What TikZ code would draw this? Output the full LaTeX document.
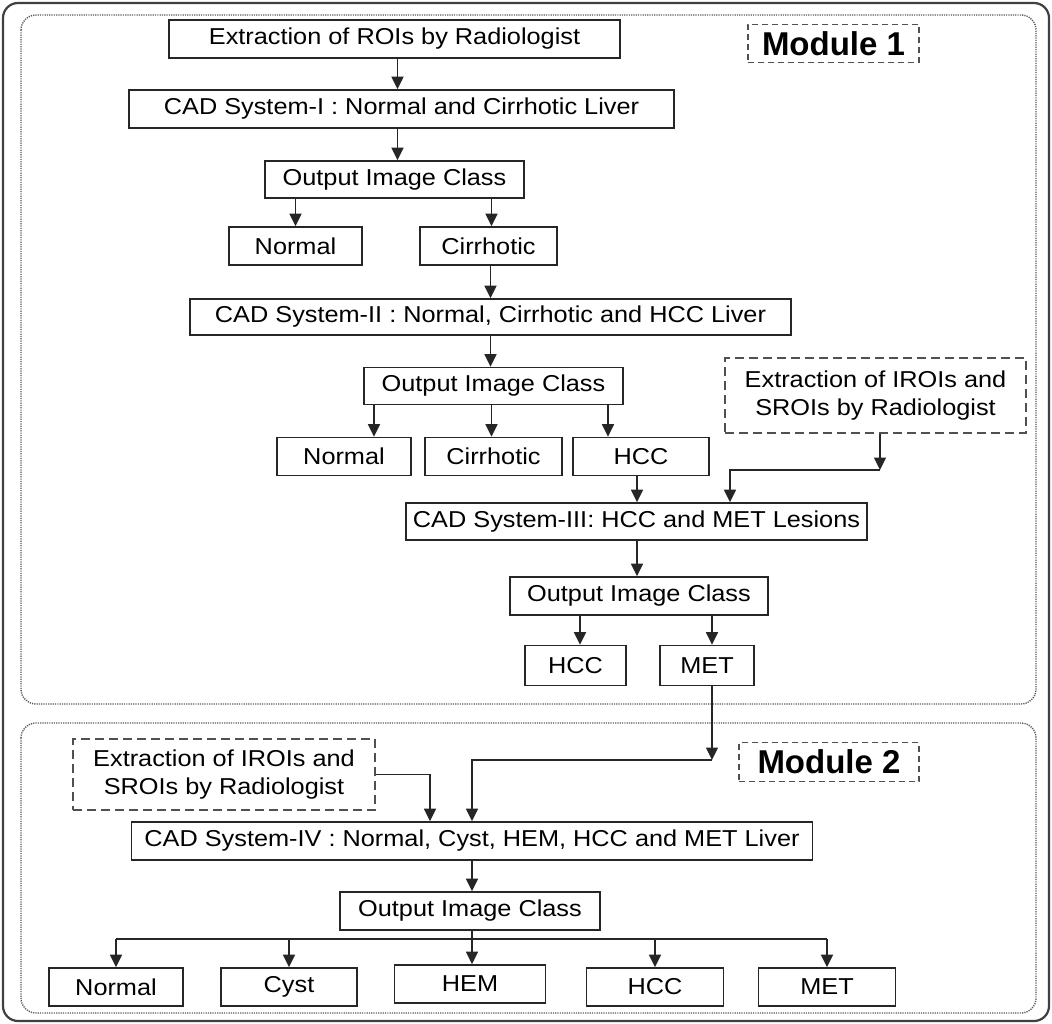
\documentclass[tikz,border=0pt]{standalone}
\usepackage{fontspec}
\setmainfont{Liberation Sans}[FakeStretch=1.1]
\newfontfamily\modulefont{Liberation Sans}[BoldFont={Liberation Sans Bold}]
\usetikzlibrary{arrows.meta,calc}
\definecolor{linec}{HTML}{262626}
\definecolor{dashc}{HTML}{505050}
\definecolor{dotc}{HTML}{5A5A5A}
\definecolor{framec}{HTML}{404040}
\begin{document}
\begin{tikzpicture}[x=1pt,y=-1pt,
  box/.style={draw=linec, line width=1.7pt, inner sep=0pt, minimum height=38pt,
    font=\fontsize{23}{28}\selectfont, text=black},
  dbox/.style={box, draw=dashc, dash pattern=on 9pt off 5pt, align=center},
  modlabel/.style={draw=dashc, line width=1.6pt, dash pattern=on 6pt off 4pt,
    inner sep=0pt, font=\modulefont\bfseries\fontsize{33}{36}\selectfont},
  module/.style={draw=dotc, line width=1.4pt, dash pattern=on 1.2pt off 1.1pt,
    rounded corners=15pt},
  line/.style={draw=linec, line width=1.7pt},
  arr/.style={line, -{Triangle[length=12.5pt,width=12pt]}}]
\useasboundingbox (0,0) rectangle (1052,1024);
\fill[white] (0,0) rectangle (1052,1024);

% frames
\draw[framec, line width=2.2pt, rounded corners=15pt] (3,3) rectangle (1049,1021);
\draw[module] (21,15) rectangle (1036,704);
\draw[module] (21,723) rectangle (1036,1013);

% module 1
\node[modlabel, minimum width=171pt, minimum height=38pt] (mod1) at (833.5,43.5) {Module 1};
\node[box, minimum width=451pt] (b1) at (394.5,39) {Extraction of ROIs by Radiologist};
\node[box, minimum width=545pt] (cad1) at (401.5,109) {CAD System-I : Normal and Cirrhotic Liver};
\node[box, minimum width=259pt, minimum height=37pt] (out1) at (394.5,179.5) {Output Image Class};
\node[box, minimum width=133pt] (n1) at (295.5,246) {Normal};
\node[box, minimum width=137pt] (c1) at (488.5,246) {Cirrhotic};
\node[box, minimum width=601pt, minimum height=36pt] (cad2) at (490.5,317) {CAD System-II : Normal, Cirrhotic and HCC Liver};
\node[box, minimum width=259pt, minimum height=37pt] (out2) at (493.5,386) {Output Image Class};
\node[box, minimum width=134pt] (n2) at (344,456.5) {Normal};
\node[box, minimum width=137pt] (c2) at (493.5,456.5) {Cirrhotic};
\node[box, minimum width=136pt] (h2) at (641,456.5) {HCC};
\node[dbox, minimum width=301pt, minimum height=75pt] (ex1) at (875.5,395.5)
  {Extraction of IROIs and\\SROIs by Radiologist};
\node[box, minimum width=461pt, minimum height=37pt] (cad3) at (636.5,521.5) {CAD System-III: HCC and MET Lesions};
\node[box, minimum width=258pt] (out3) at (639,596) {Output Image Class};
\node[box, minimum width=101pt, minimum height=40pt] (h3) at (575.5,665.5) {HCC};
\node[box, minimum width=94pt, minimum height=40pt] (m3) at (707,665.5) {MET};

% module 2
\node[modlabel, minimum width=180pt, minimum height=39pt] (mod2) at (829,762) {Module 2};
\node[dbox, minimum width=302pt, minimum height=71pt] (ex2) at (224,774.5)
  {Extraction of IROIs and\\SROIs by Radiologist};
\node[box, minimum width=681pt] (cad4) at (472,841) {CAD System-IV : Normal, Cyst, HEM, HCC and MET Liver};
\node[box, minimum width=260pt] (out4) at (470,911) {Output Image Class};
\node[box, minimum width=134pt] (n4) at (116,987) {Normal};
\node[box, minimum width=136pt] (cy4) at (289,987) {Cyst};
\node[box, minimum width=151pt] (hem4) at (470,984) {HEM};
\node[box, minimum width=137pt] (hc4) at (655,987) {HCC};
\node[box, minimum width=137pt] (m4) at (827,987) {MET};

% connectors, module 1
\draw[arr] ([xshift=3pt]b1.south) -- ([xshift=3pt]b1.south |- cad1.north);
\draw[arr] ([xshift=3pt]out1.north |- cad1.south) -- ([xshift=3pt]out1.north);
\draw[arr] (n1.north |- out1.south) -- (n1.north);
\draw[arr] ([xshift=3pt]c1.north |- out1.south) -- ([xshift=3pt]c1.north);
\draw[arr] ([xshift=2pt]c1.south) -- ([xshift=2pt]c1.south |- cad2.north);
\draw[arr] ([xshift=2pt]c1.south |- cad2.south) -- ([xshift=2pt]c1.south |- out2.north);
\draw[arr] ([xshift=30pt]n2.north |- out2.south) -- ([xshift=30pt]n2.north);
\draw[arr] ([xshift=-2pt]c2.north |- out2.south) -- ([xshift=-2pt]c2.north);
\draw[arr] ([xshift=-33pt]h2.north |- out2.south) -- ([xshift=-33pt]h2.north);
\draw[arr] ([xshift=-4pt]h2.south) -- ([xshift=-4pt]h2.south |- cad3.north);
\coordinate (k1) at ([xshift=4.5pt]ex1.south |- 0,470);
\draw[arr] ([xshift=4.5pt]ex1.south) -- (k1);
\draw[arr] (k1) -| ([xshift=93.5pt]cad3.north);
\draw[arr] ([xshift=-4pt]h2.south |- cad3.south) -- ([xshift=-4pt]h2.south |- out3.north);
\draw[arr] ([xshift=4.5pt]h3.north |- out3.south) -- ([xshift=4.5pt]h3.north);
\draw[arr] ([xshift=5pt]m3.north |- out3.south) -- ([xshift=5pt]m3.north);

% connectors, module 2
\coordinate (k2) at ([xshift=5pt]m3.south |- 0,760);
\draw[arr] ([xshift=5pt]m3.south) -- (k2);
\draw[arr] (k2) -| (cad4.north);
\draw[arr] (ex2.east) -| ([xshift=-42pt]cad4.north);
\draw[arr] (cad4.south) -- (cad4.south |- out4.north);
\draw[arr] (cad4.south |- out4.south) -- (cad4.south |- hem4.north);
\coordinate (bry) at (0,939);
\draw[line] (n4.north |- bry) -- (m4.north |- bry);
\foreach \t in {n4,cy4,hc4,m4}
  \draw[arr] (\t.north |- bry) -- (\t.north);
\end{tikzpicture}
\end{document}
